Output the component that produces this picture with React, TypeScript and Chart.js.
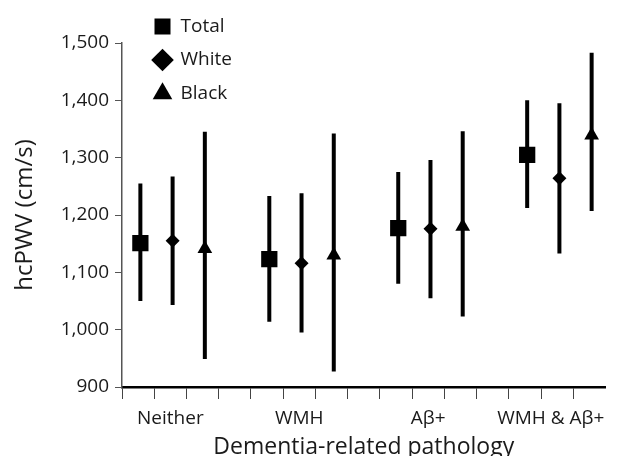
import React, { useEffect, useRef } from "react";
import { Chart, registerables } from "chart.js";

Chart.register(...registerables);

const categories = ["Neither", "WMH", "Aβ+", "WMH & Aβ+"];
const seriesNames = ["Total", "White", "Black"];
const totalMean = [1151, 1123, 1177, 1305];
const totalLow = [1050, 1014, 1080, 1212];
const totalHigh = [1255, 1233, 1275, 1400];
const whiteMean = [1155, 1116, 1176, 1264];
const whiteLow = [1043, 995, 1055, 1133];
const whiteHigh = [1267, 1238, 1296, 1395];
const blackMean = [1141, 1130, 1180, 1339];
const blackLow = [949, 927, 1023, 1207];
const blackHigh = [1345, 1342, 1346, 1483];
const yTicks = [900, 1000, 1100, 1200, 1300, 1400, 1500];

const FONT = "'Open Sans', 'DejaVu Sans', sans-serif";
const TEXT = "#1a1a1a";

const means = [totalMean, whiteMean, blackMean];
const lows = [totalLow, whiteLow, blackLow];
const highs = [totalHigh, whiteHigh, blackHigh];
const styles = ["rect", "rectRot", "triangle"];
const radii = [11.5, 7, 8.5];

const xPos = (g: number, s: number) => 0.57 + 4 * g + s;
const labelPos = (g: number) => Math.min(1.5 + 4 * g, 13.3);

export default function App() {
  const ref = useRef<HTMLCanvasElement | null>(null);
  useEffect(() => {
    document.body.style.margin = "0";
    if (!ref.current) return;

    const markerSets = seriesNames.map((name, s) => ({
      label: name,
      type: "line" as const,
      showLine: false,
      data: categories.map((_, g) => ({ x: xPos(g, s), y: means[s][g] })),
      pointStyle: styles[s],
      pointRadius: radii[s],
      pointHoverRadius: radii[s],
      pointBackgroundColor: "#000",
      pointBorderColor: "#000",
      pointBorderWidth: 0,
      backgroundColor: "#000",
      borderColor: "#000",
    }));

    const whiskerSets = seriesNames.map((name, s) => {
      const pts: any[] = [];
      categories.forEach((_, g) => {
        pts.push({ x: xPos(g, s), y: lows[s][g] });
        pts.push({ x: xPos(g, s), y: highs[s][g] });
        pts.push({ x: xPos(g, s), y: null });
      });
      return {
        label: "err-" + name,
        type: "line" as const,
        data: pts,
        borderColor: "#000",
        borderWidth: 4,
        borderCapStyle: "butt" as const,
        pointRadius: 0,
        spanGaps: false,
        fill: false,
      };
    });

    const legendPlace = {
      id: "legendPlace",
      afterLayout(chart: any) {
        const lg = chart.legend;
        if (!lg) return;
        const h = lg.bottom - lg.top;
        const w = lg.right - lg.left;
        lg.left = 139.5;
        lg.right = 139.5 + w;
        lg.top = 2.5;
        lg.bottom = 2.5 + h;
      },
    };

    const chart = new Chart(ref.current, {
      type: "line",
      data: { datasets: [...markerSets, ...whiskerSets] as any },
      plugins: [legendPlace],
      options: {
        animation: false,
        responsive: false,
        maintainAspectRatio: false,
        layout: { padding: { top: 43, right: 0, left: 0, bottom: 0 } },
        plugins: {
          tooltip: { enabled: false },
          legend: {
            position: "chartArea",
            align: "start",
            labels: {
              usePointStyle: true,
              boxHeight: 16,
              boxWidth: 17,
              padding: 14.5,
              color: TEXT,
              font: { family: FONT, size: 19 },
              filter: (item: any) => !String(item.text).startsWith("err-"),
            },
          },
        },
        scales: {
          x: {
            type: "linear",
            position: "bottom",
            min: 0,
            max: 15,
            weight: 0,
            afterBuildTicks: (scale: any) => {
              scale.ticks = Array.from({ length: 15 }, (_, i) => ({ value: i }));
            },
            ticks: { display: false },
            grid: {
              display: true,
              drawOnChartArea: false,
              drawTicks: true,
              tickLength: 12,
              color: "#444",
              lineWidth: 1,
            },
            border: { display: true, color: "#000", width: 2.5 },
          },
          x2: {
            type: "linear",
            position: "bottom",
            min: 0,
            max: 15,
            weight: 1,
            afterBuildTicks: (scale: any) => {
              scale.ticks = categories.map((_, g) => ({ value: labelPos(g) }));
            },
            afterFit: (scale: any) => {
              scale.height = 57;
            },
            ticks: {
              autoSkip: false,
              maxRotation: 0,
              minRotation: 0,
              padding: 0,
              color: TEXT,
              font: { family: FONT, size: 19 },
              callback: (_v: any, i: number) => categories[i],
            },
            grid: { display: false },
            border: { display: false },
            title: {
              display: true,
              text: "Dementia-related pathology",
              color: TEXT,
              font: { family: FONT, size: 23 },
              padding: { top: 0, bottom: -5 },
            },
          },
          y: {
            type: "linear",
            min: 900,
            max: 1500,
            afterBuildTicks: (scale: any) => {
              scale.ticks = yTicks.map((v) => ({ value: v }));
            },
            afterFit: (scale: any) => {
              scale.width = 122;
            },
            ticks: {
              padding: 6,
              color: TEXT,
              font: { family: FONT, size: 19 },
              callback: (v: any) => Number(v).toLocaleString("en-US"),
            },
            grid: {
              display: true,
              drawOnChartArea: false,
              drawTicks: true,
              tickLength: 7,
              color: "#555",
            },
            border: { display: true, color: "#555", width: 1.5 },
            title: {
              display: true,
              text: "hcPWV (cm/s)",
              color: TEXT,
              font: { family: FONT, size: 24 },
              padding: { top: 11, bottom: 0 },
            },
          },
        },
      },
    });
    return () => chart.destroy();
  }, []);

  return (
    <div style={{ width: 617, height: 456 }}>
      <canvas ref={ref} width={617} height={456} style={{ display: "block" }} />
    </div>
  );
}
